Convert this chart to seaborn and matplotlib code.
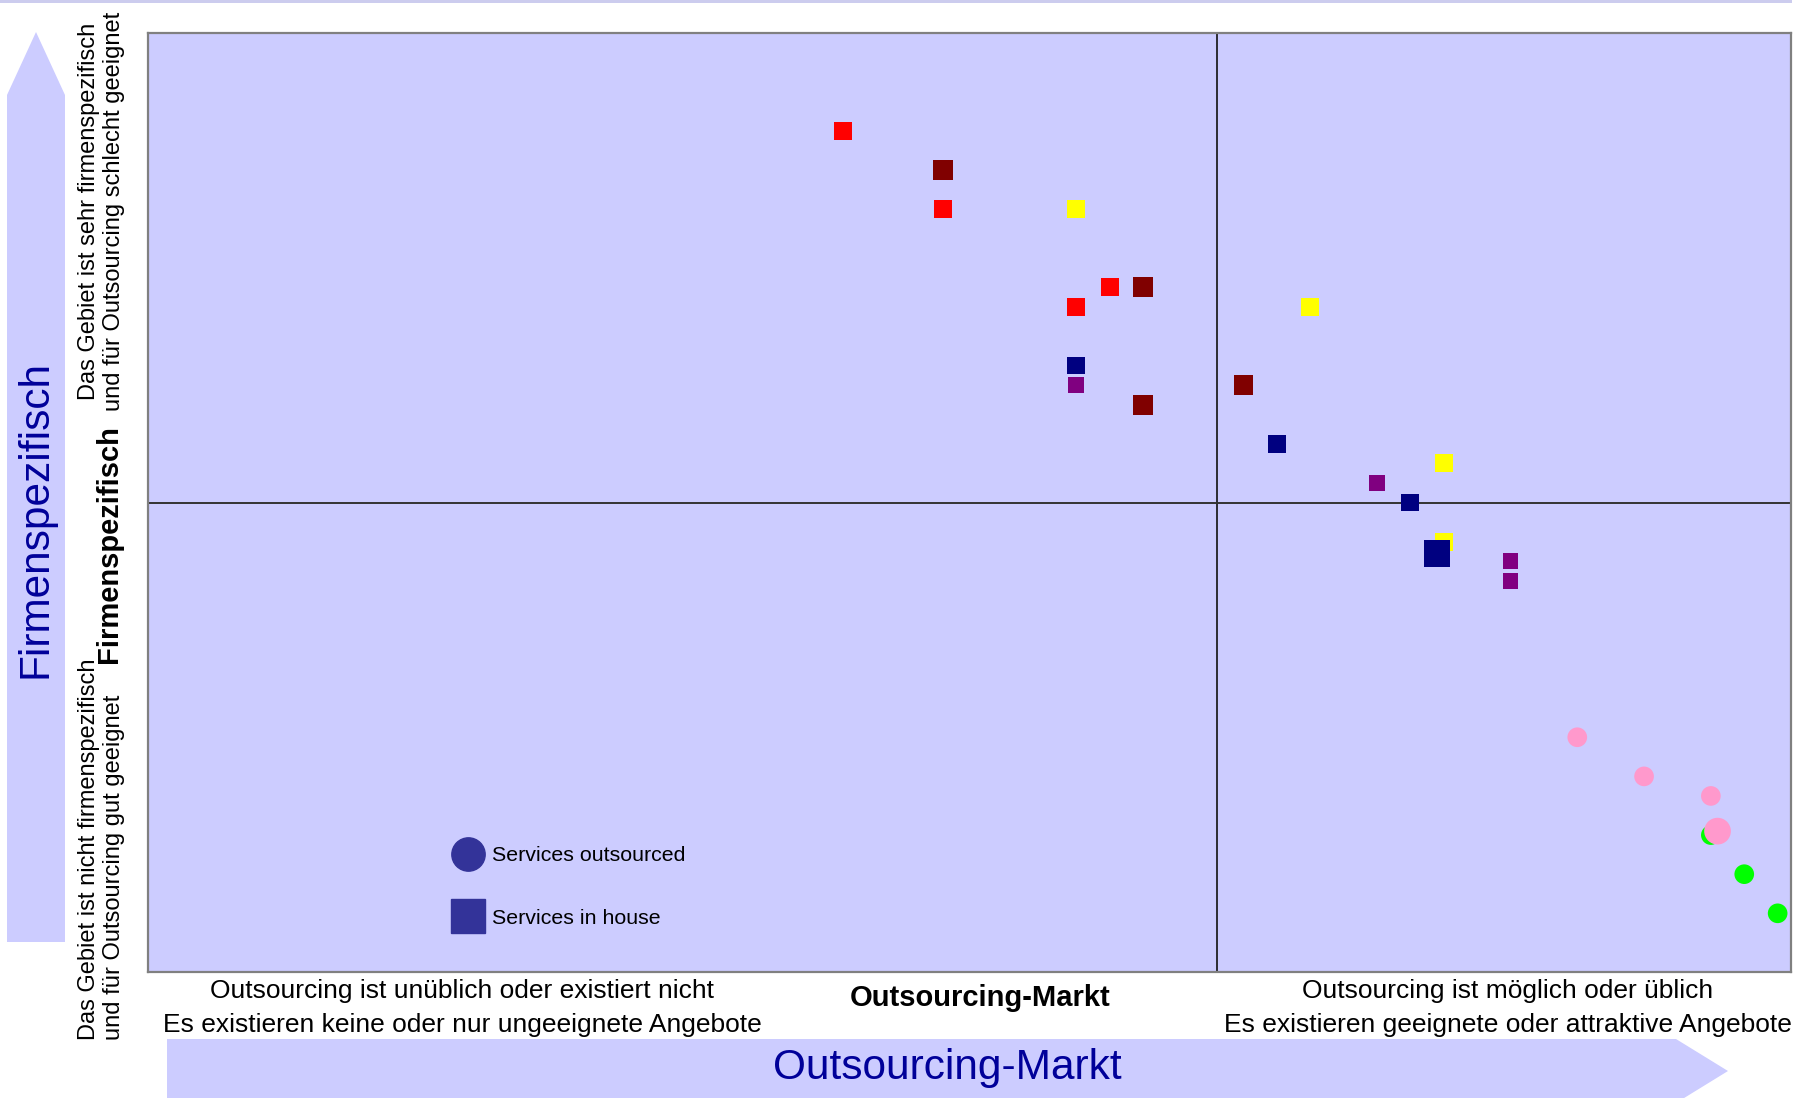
import numpy as np
import pandas as pd
import seaborn as sns
import matplotlib.pyplot as plt
from matplotlib.patches import Polygon, Rectangle
from matplotlib.lines import Line2D
from matplotlib.transforms import Affine2D

# data (x = market, y = company specific)
x_vals = [20.8, 23.8, 23.8, 27.8, 28.8, 29.8, 27.8, 27.8, 27.8, 29.8,
          34.8, 32.8, 33.8, 38.8, 36.8, 37.8, 38.8, 38.6, 40.8, 40.8,
          42.8, 44.8, 46.8, 46.8, 47.0, 47.8, 48.8]
y_vals = [43, 41, 39, 39, 35, 35, 34, 31, 30, 29,
          34, 30, 27, 26, 25, 24, 22, 21.4, 21, 20,
          12, 10, 9, 7, 7.2, 5, 3]
colors = ['red', 'darkred', 'red', 'yellow', 'red', 'darkred', 'red', 'navy', 'purple', 'darkred',
          'yellow', 'darkred', 'navy', 'yellow', 'purple', 'navy', 'yellow', 'navy', 'purple', 'purple',
          'pink', 'pink', 'pink', 'green', 'pink', 'green', 'green']
kinds = ['in house'] * 20 + ['outsourced'] * 7
sizes = ['m', 'l', 'm', 'm', 'm', 'l', 'm', 'm', 's', 'l',
         'm', 'l', 'm', 'm', 's', 'm', 'm', 'xl', 's', 's',
         'l', 'l', 'l', 'l', 'xl', 'l', 'l']

color_map = {'red': '#FF0000', 'darkred': '#800000', 'yellow': '#FFFF00', 'navy': '#000080',
             'purple': '#800080', 'pink': '#FF99CC', 'green': '#00FF00'}
marker_map = {'in house': 's', 'outsourced': 'o'}
size_map = {'s': 130, 'm': 165, 'l': 200, 'xl': 370}

x_split, y_split = 32, 24
x_max, y_max = 49.2, 48

df = pd.DataFrame({'x': x_vals, 'y': y_vals, 'color': colors, 'kind': kinds, 'size': sizes})

sns.set_style('white')
plt.rcParams['font.family'] = ['Liberation Sans', 'DejaVu Sans']
plt.rcParams['text.color'] = 'black'

W, H = 1806, 1098
fig = plt.figure(figsize=(W / 100, H / 100), dpi=100)
ax = fig.add_axes([148 / W, 1 - 972 / H, 1643 / W, 939 / H])
ax.set_facecolor('#CCCCFF')

sns.scatterplot(data=df, x='x', y='y', hue='color', palette=color_map,
                style='kind', markers=marker_map, size='size', sizes=size_map,
                linewidth=0, legend=False, ax=ax, zorder=3)

ax.axvline(x_split, color='#111111', lw=1.2, zorder=2)
ax.axhline(y_split, color='#333333', lw=1.4, zorder=2)
ax.set_xlim(0, x_max)
ax.set_ylim(0, y_max)
ax.set_xticks([])
ax.set_yticks([])
ax.set_xlabel('')
ax.set_ylabel('')
for sp in ax.spines.values():
    sp.set_color('#808080')
    sp.set_linewidth(1.6)

# legend
handles = [Line2D([], [], marker='o', color='#333399', ls='', markersize=24, label='Services outsourced'),
           Line2D([], [], marker='s', color='#333399', ls='', markersize=25, label='Services in house')]
leg = ax.legend(handles=handles, loc='center left', bbox_to_anchor=(451 / W, 1 - 887 / H),
                bbox_transform=fig.transFigure, frameon=False, fontsize=15.4, borderpad=0,
                borderaxespad=0, handlelength=1.6, handletextpad=0.3, labelspacing=2.05)
for t in leg.get_texts():
    t.set_color('black')

# pixel transform for decorations (origin top-left)
px = Affine2D().scale(1 / W, -1 / H).translate(0, 1) + fig.transFigure

fig.patches.append(Rectangle((0, 0), 1792, 2.5, transform=px, color='#CCCCEE', lw=0))
fig.patches.append(Polygon([(7, 942), (7, 95), (36, 32), (65, 95), (65, 942)],
                           closed=True, transform=px, color='#CCCCFF', lw=0))
fig.patches.append(Polygon([(167, 1039), (1676, 1039), (1728, 1071), (1676, 1103), (167, 1103)],
                           closed=True, transform=px, color='#CCCCFF', lw=0))

fig.text(36, 519, 'Firmenspezifisch', transform=px, rotation=90, ha='center', va='center',
         fontsize=30.5, color='#000099')
fig.text(947, 1068, 'Outsourcing-Markt', transform=px, ha='center', va='center',
         fontsize=30.5, color='#000099')

fig.text(101.5, 211, 'Das Gebiet ist sehr firmenspezifisch\nund für Outsourcing schlecht geeignet',
         transform=px, rotation=90, ha='center', va='center', multialignment='center',
         fontsize=17, linespacing=1.2)
fig.text(101.5, 1040, 'Das Gebiet ist nicht firmenspezifisch\nund für Outsourcing gut geeignet',
         transform=px, rotation=90, ha='center', va='bottom', multialignment='left',
         fontsize=17, linespacing=1.2)
fig.text(109, 544, 'Firmenspezifisch', transform=px, rotation=90, ha='center', va='center',
         fontsize=21, fontweight='bold')

fig.text(462, 1008, 'Outsourcing ist unüblich oder existiert nicht\nEs existieren keine oder nur ungeeignete Angebote',
         transform=px, ha='center', va='center', multialignment='center', fontsize=19, linespacing=1.5)
fig.text(1508, 1008, 'Outsourcing ist möglich oder üblich\nEs existieren geeignete oder attraktive Angebote',
         transform=px, ha='center', va='center', multialignment='center', fontsize=19, linespacing=1.5)
fig.text(980, 998, 'Outsourcing-Markt', transform=px, ha='center', va='center',
         fontsize=21, fontweight='bold')

fig.savefig('out.png', dpi=100)
